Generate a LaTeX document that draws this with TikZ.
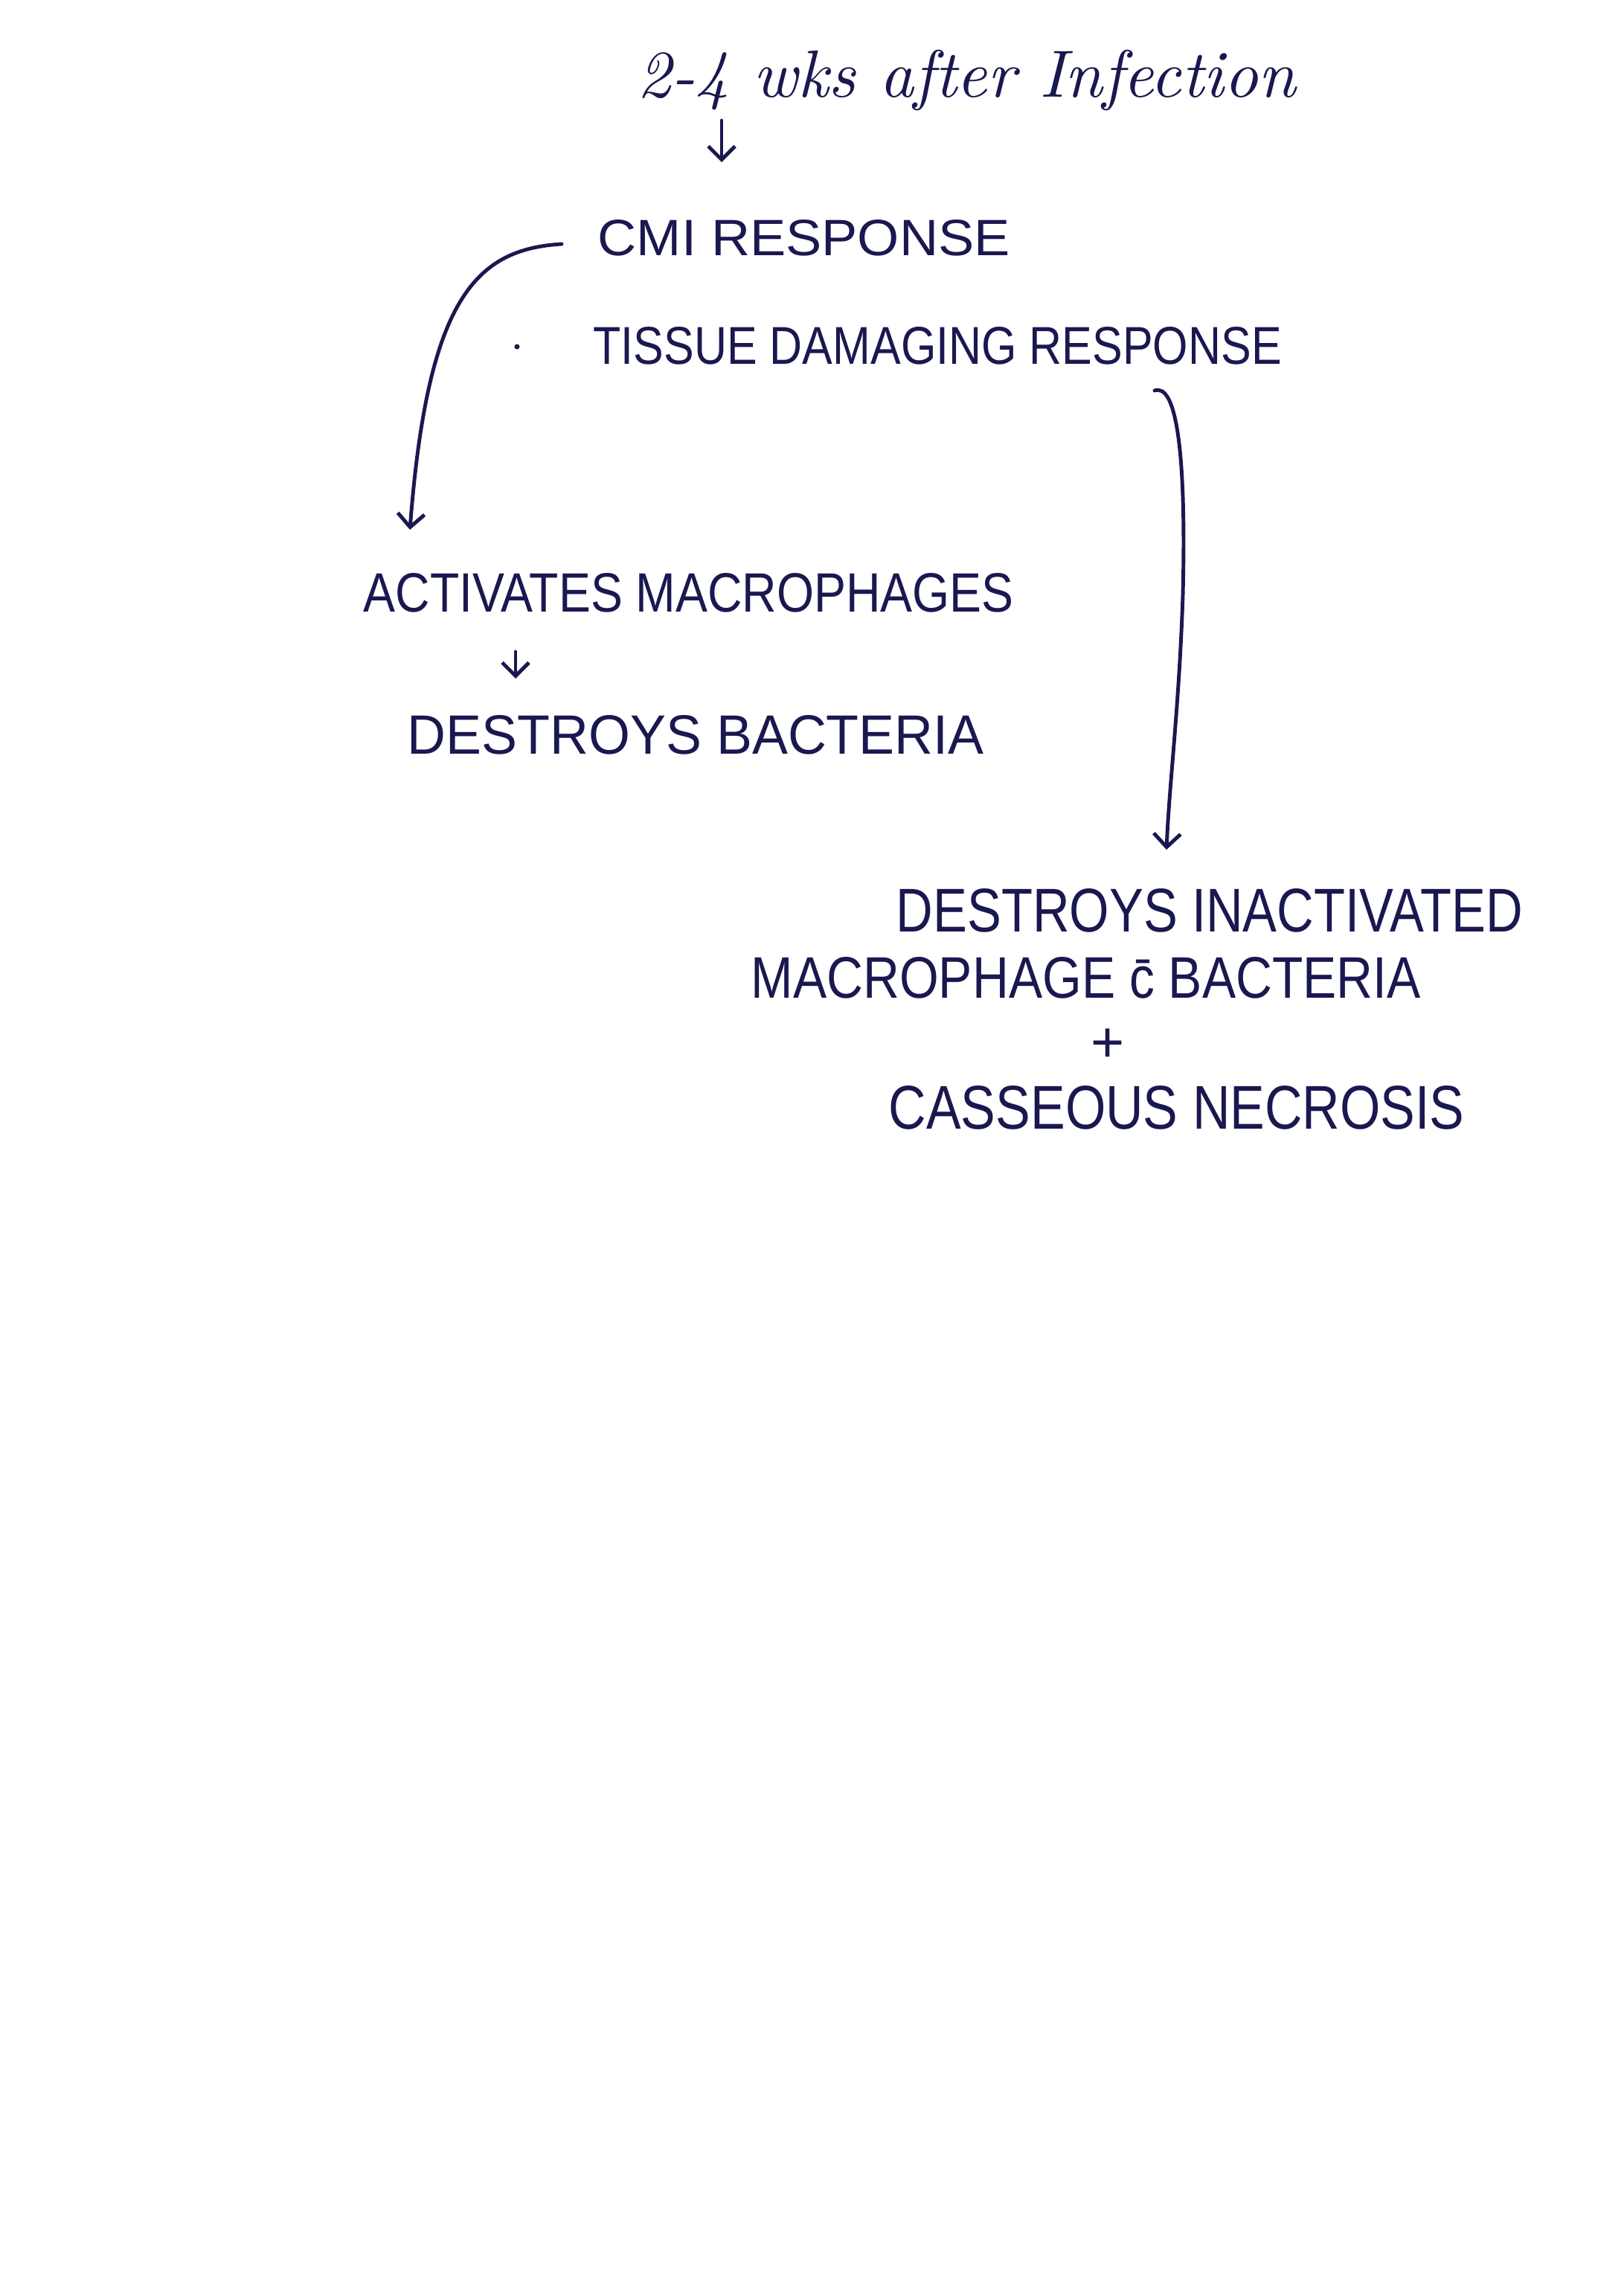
\documentclass[tikz,border=0pt]{standalone}
\usepackage{fontspec}
\setsansfont{Liberation Sans}
\usetikzlibrary{arrows.meta}
\definecolor{ink}{HTML}{1A1850}
\newcommand{\fitcaps}[3]{\resizebox{#1cm}{#2cm}{\sffamily #3}}
\tikzset{
  lbl/.style={anchor=west, inner sep=0pt, text=ink},
  conn/.style={draw=ink, line width=1.4pt, line cap=round, -{Straight Barb[length=1.8mm,width=3.6mm]}},
}
\begin{document}
\begin{tikzpicture}
\fill[white] (0,0) rectangle (21.82,-30.86);
\useasboundingbox (0,0) rectangle (21.82,-30.86);

\node[lbl] (top) at (8.56,-1.08) {\resizebox{8.85cm}{!}{\itshape 2-4 wks after Infection}};
\node[lbl] (cmi) at (8.03,-3.20) {\fitcaps{5.54}{0.48}{CMI RESPONSE}};
\node[lbl] (tissue) at (7.97,-4.65) {\fitcaps{9.25}{0.50}{TISSUE DAMAGING RESPONSE}};
\node[lbl] (act) at (4.88,-7.97) {\fitcaps{8.74}{0.52}{ACTIVATES MACROPHAGES}};
\node[lbl] (destb) at (5.47,-9.88) {\fitcaps{7.75}{0.52}{DESTROYS BACTERIA}};
\node[lbl] (destm1) at (12.04,-12.24) {\fitcaps{8.42}{0.58}{DESTROYS INACTIVATED}};
\node[lbl] (destm2) at (10.09,-13.14) {\fitcaps{9.0}{0.55}{MACROPHAGE \=c BACTERIA}};
\node[text=ink, inner sep=0pt, font=\sffamily\fontsize{22}{24}\selectfont] (plus) at (14.89,-14.05) {+};
\node[lbl] (cas) at (11.94,-14.89) {\fitcaps{7.74}{0.58}{CASSEOUS NECROSIS}};

\fill[ink] (6.95,-4.66) circle (0.035);

\coordinate (a1s) at (9.70,-1.62);
\coordinate (a1e) at (9.70,-2.18);
\draw[conn] (a1s) -- (a1e);

\coordinate (c1s) at ([xshift=-0.48cm,yshift=-0.08cm]cmi.west);
\coordinate (c1e) at (5.51,-7.12);
\draw[conn] (c1s) .. controls (6.40,-3.35) and (5.75,-4.00) .. (c1e);

\coordinate (a2s) at (6.93,-8.76);
\coordinate (a2e) at (6.93,-9.12);
\draw[conn] (a2s) -- (a2e);

\coordinate (r1s) at (15.52,-5.25);
\coordinate (r1m) at (15.90,-8.00);
\coordinate (r1e) at (15.68,-11.42);
\draw[conn] (r1s) .. controls (15.80,-5.15) and (15.95,-6.00) .. (r1m) .. controls (15.85,-9.50) and (15.72,-10.50) .. (r1e);
\end{tikzpicture}
\end{document}
